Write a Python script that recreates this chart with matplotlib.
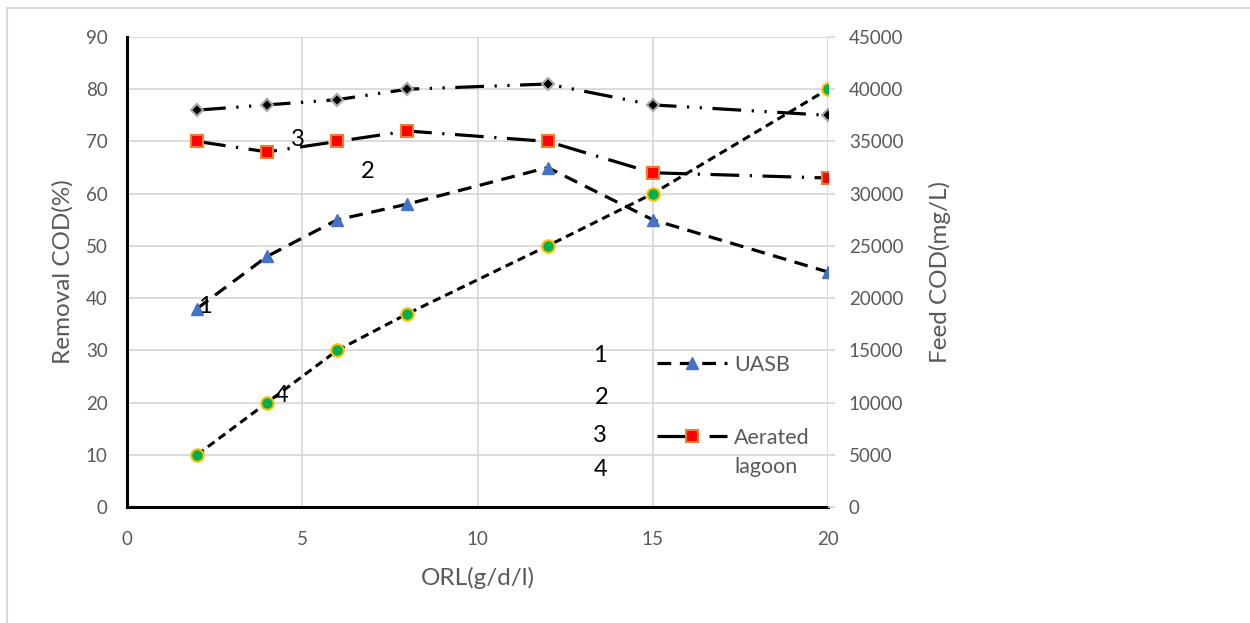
import matplotlib
matplotlib.use("Agg")
import matplotlib.pyplot as plt
from matplotlib.patches import Rectangle
from matplotlib.legend_handler import HandlerLine2D

plt.rcParams['font.family'] = ['Lato', 'DejaVu Sans']

# datos
orl = [2, 4, 6, 8, 12, 15, 20]
uasb = [38, 48, 55, 58, 65, 55, 45]
aerated = [70, 68, 70, 72, 70, 64, 63]
total = [76, 77, 78, 80, 81, 77, 75]
feed_cod = [5000, 10000, 15000, 18500, 25000, 30000, 40000]

# etiquetas numéricas sueltas (x, y en unidades de datos)
num_labels = ['1', '3', '2', '4', '1', '2', '3', '4']
num_x = [2.23, 4.88, 6.88, 4.42, 13.5, 13.55, 13.5, 13.5]
num_y = [38.3, 70.3, 64.2, 21.4, 29.1, 20.9, 13.6, 7.1]

grey_txt = '#595959'
grid_col = '#D9D9D9'


# marcador de leyenda alineado con la primera línea del texto
class FirstLineHandler(HandlerLine2D):
    def __init__(self, shift=0.0, **kw):
        super().__init__(**kw)
        self.shift = shift

    def create_artists(self, legend, orig_handle, xdescent, ydescent, width, height, fontsize, trans):
        arts = super().create_artists(legend, orig_handle, xdescent, ydescent, width, height, fontsize, trans)
        for a in arts:
            a.set_ydata([y + self.shift * fontsize for y in a.get_ydata()])
        return arts


fig = plt.figure(figsize=(12.5, 6.23), dpi=100)
# borde del área del gráfico
fig.patches.append(Rectangle((7 / 1250, -0.1), 1.2, 1 - 8 / 623 + 0.1, transform=fig.transFigure,
                             fill=False, edgecolor='#D9D9D9', linewidth=1.5))

ax = fig.add_axes([127 / 1250, 1 - 507 / 623, 701 / 1250, 470 / 623])
ax2 = ax.twinx()

ax.set_xlim(0, 20)
ax.set_ylim(0, 90)
ax2.set_ylim(0, 45000)
ax.set_xticks([0, 5, 10, 15, 20])
ax.set_yticks(range(0, 91, 10))
ax2.set_yticks(range(0, 45001, 5000))

ax.grid(True, color=grid_col, linewidth=1.3)
ax.set_axisbelow(True)

for s in ['top', 'right']:
    ax.spines[s].set_visible(False)
for s in ['top', 'right', 'left', 'bottom']:
    ax2.spines[s].set_visible(False)
ax.spines['left'].set_linewidth(2.2)
ax.spines['bottom'].set_linewidth(2.2)
ax.spines['left'].set_color('black')
ax.spines['bottom'].set_color('black')

ax.tick_params(axis='both', length=0, labelsize=13.5, labelcolor=grey_txt)
ax.tick_params(axis='y', pad=14)
ax.tick_params(axis='x', pad=17)
ax2.tick_params(axis='y', length=5, color=grid_col, width=1.3, labelsize=13.5, labelcolor=grey_txt, pad=10)

l_uasb, = ax.plot(orl, uasb, color='black', lw=2.3, dashes=(4.3, 2.7),
                  marker='^', markersize=9, markerfacecolor='#4472C4', markeredgecolor='#4472C4',
                  label='UASB', zorder=3)
l_aer, = ax.plot(orl, aerated, color='black', lw=2.3, dashes=(9, 3.3, 0.7, 3.3),
                 marker='s', markersize=9, markerfacecolor='#FF0000', markeredgecolor='#ED7D31',
                 markeredgewidth=1.5, label='Aerated\nlagoon', zorder=3)
ax.plot(orl, total, color='black', lw=2.3, dashes=(9, 3.3, 0.7, 3.3, 0.7, 3.3),
        marker='D', markersize=6.5, markerfacecolor='black', markeredgecolor='#A5A5A5',
        markeredgewidth=1.5, zorder=3)
ax2.plot(orl, feed_cod, color='black', lw=2.2, dashes=(2.7, 1.7),
         marker='o', markersize=9, markerfacecolor='#00B050', markeredgecolor='#FFC000',
         markeredgewidth=1.5, zorder=3)

for t, x, y in zip(num_labels, num_x, num_y):
    ax.text(x, y, t, fontsize=17, ha='center', va='center', color='black', zorder=4)

ax.set_xlabel('ORL(g/d/l)', fontsize=17.5, color=grey_txt, labelpad=14)
ax.set_ylabel('Removal COD(%)', fontsize=17.5, color=grey_txt, labelpad=9)
ax2.set_ylabel('Feed COD(mg/L)', fontsize=17.5, color=grey_txt, labelpad=18)

leg = ax2.legend(handles=[l_uasb, l_aer], loc='upper left', bbox_to_anchor=(657 / 1250, 1 - 355 / 623),
                 bbox_transform=fig.transFigure, frameon=False, fontsize=15.5, handlelength=3.25,
                 labelspacing=2.45, handletextpad=0.33, borderaxespad=0, borderpad=0,
                 handler_map={l_aer: FirstLineHandler(shift=0.78)})
for txt in leg.get_texts():
    txt.set_color(grey_txt)
    txt.set_linespacing(1.6)

fig.savefig('out.png', dpi=100)
